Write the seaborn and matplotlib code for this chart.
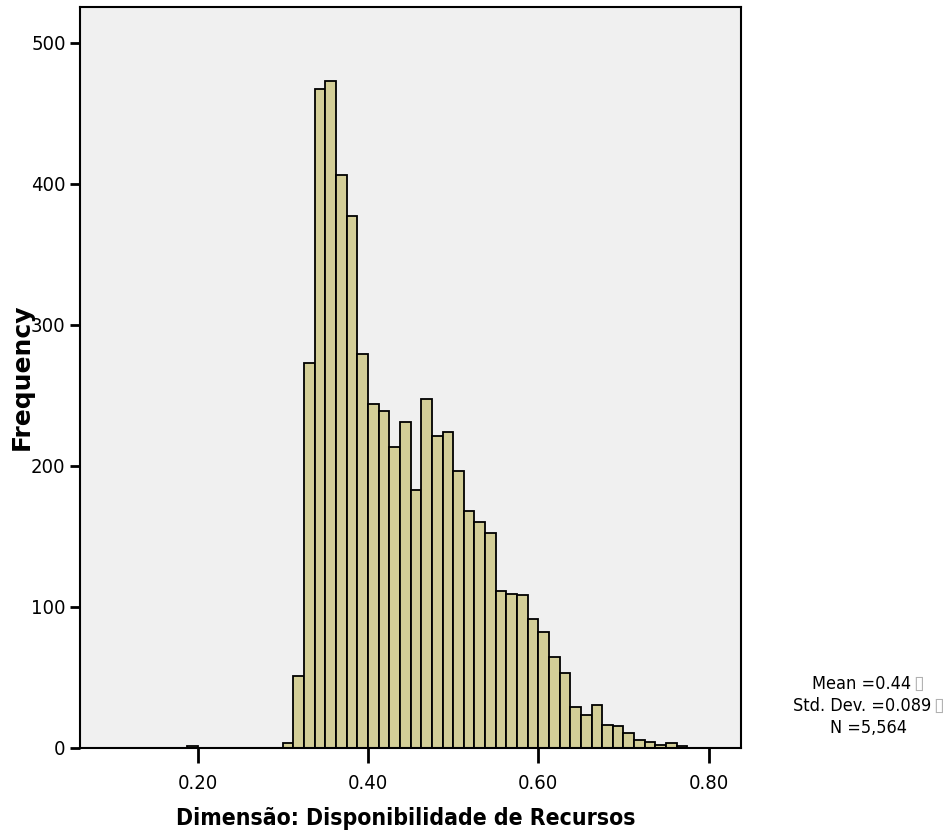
import matplotlib
matplotlib.use("Agg")
import matplotlib.pyplot as plt
from matplotlib import font_manager
from matplotlib.font_manager import FontProperties
import seaborn as sns
import numpy as np
import pandas as pd

sns.set_style("white")

# histogram values (SPSS style, bin width 0.0125)
bin_start = 0.1875
bin_width = 0.0125
counts = [1, 0, 0, 0, 0, 0, 0, 0, 0,
          3, 51, 273, 467, 473, 406, 377, 279,
          244, 239, 213, 231, 183, 247, 221, 224,
          196, 168, 160, 152, 111, 109, 108, 91,
          82, 64, 53, 29, 23, 30, 16, 15,
          10, 5, 4, 2, 3, 1]
xticks = [0.20, 0.40, 0.60, 0.80]
yticks = [0, 100, 200, 300, 400, 500]
xlabel = "Dimensão: Disponibilidade de Recursos"
ylabel = "Frequency"
stats = ["Mean =0.44", "Std. Dev. =0.089", "N =5,564"]

plt.rcParams['font.family'] = ['Liberation Sans', 'DejaVu Sans']
plt.rcParams['text.color'] = 'black'


def narrow_font(bold):
    # look for any condensed / narrow sans face, the SPSS chart uses Arial Narrow
    want = 700 if bold else 400
    best = None
    for f in font_manager.fontManager.ttflist:
        st = str(f.stretch).lower()
        nm = f.name.lower()
        cond = "narrow" in nm or "condensed" in nm or "condensed" in st
        if not cond or f.style != "normal" or "mono" in nm or "serif" in nm and "sans" not in nm:
            continue
        w = f.weight if isinstance(f.weight, int) else (700 if "bold" in str(f.weight) else 400)
        if abs(w - want) > 100:
            continue
        rank = 0 if "liberation" in nm else 1 if "dejavu" in nm else 2
        if best is None or rank < best[0]:
            best = (rank, f.fname)
    if best is None:
        return None
    return best[1]


reg_path = narrow_font(False)
bold_path = narrow_font(True)
print("narrow fonts:", reg_path, bold_path)


def fp(size, bold=False):
    path = bold_path if bold else reg_path
    if path:
        return FontProperties(fname=path, size=size)
    return FontProperties(family="Liberation Sans", size=size,
                          weight="bold" if bold else "normal")


edges = bin_start + bin_width * np.arange(len(counts) + 1)
df = pd.DataFrame({"score": edges[:-1] + bin_width / 2, "freq": counts})

W, H = 946, 835
fig = plt.figure(figsize=(W / 100, H / 100), dpi=100)
ax = fig.add_axes([79.5 / W, 1 - 747.5 / H, (741 - 79.5) / W, (747.5 - 7) / H])
ax.set_facecolor("#f0f0f0")

# bins passed as a list: seaborn compares bins == "auto" when weights are given
sns.histplot(data=df, x="score", weights="freq", bins=list(edges), ax=ax,
             color="#d3ce97", edgecolor="black", linewidth=1.3, alpha=1)

ax.set_xlim(0.0612, 0.838)
ax.set_ylim(0, 525.5)
ax.set_xticks(xticks)
ax.set_xticklabels([f"{t:.2f}" for t in xticks])
ax.set_yticks(yticks)
ax.set_xlabel("")
ax.set_ylabel("")
for s in ax.spines.values():
    s.set_color("black")
    s.set_linewidth(1.5)
ax.tick_params(axis="x", direction="out", length=11, width=2, pad=8,
               colors="black", bottom=True)
ax.tick_params(axis="y", direction="out", length=7, width=2, pad=3,
               colors="black", left=True)
for lab in ax.get_xticklabels() + ax.get_yticklabels():
    lab.set_fontproperties(fp(14.5))

fig.text(406 / W, 1 - 825 / H, xlabel, ha="center", va="baseline",
         fontproperties=fp(16.5, bold=True))
fig.text(21.5 / W, 1 - 377 / H, ylabel, ha="center", va="center",
         rotation=90, fontsize=18, fontweight="bold", family="DejaVu Sans")

# summary box at the right, trailing boxes mimic the missing-glyph squares
fig.text(911 / W, 1 - 689 / H, stats[0], ha="right", va="baseline",
         fontproperties=fp(13))
fig.text(913 / W, 1 - 689 / H, "\u25af", ha="left", va="baseline", fontsize=14,
         color="#b0b0b0", family="DejaVu Sans")
fig.text(931 / W, 1 - 711 / H, stats[1], ha="right", va="baseline",
         fontproperties=fp(13))
fig.text(933 / W, 1 - 711 / H, "\u25af", ha="left", va="baseline", fontsize=14,
         color="#b0b0b0", family="DejaVu Sans")
fig.text(868 / W, 1 - 733 / H, stats[2], ha="center", va="baseline",
         fontproperties=fp(13))

fig.savefig("out.png", dpi=100)
